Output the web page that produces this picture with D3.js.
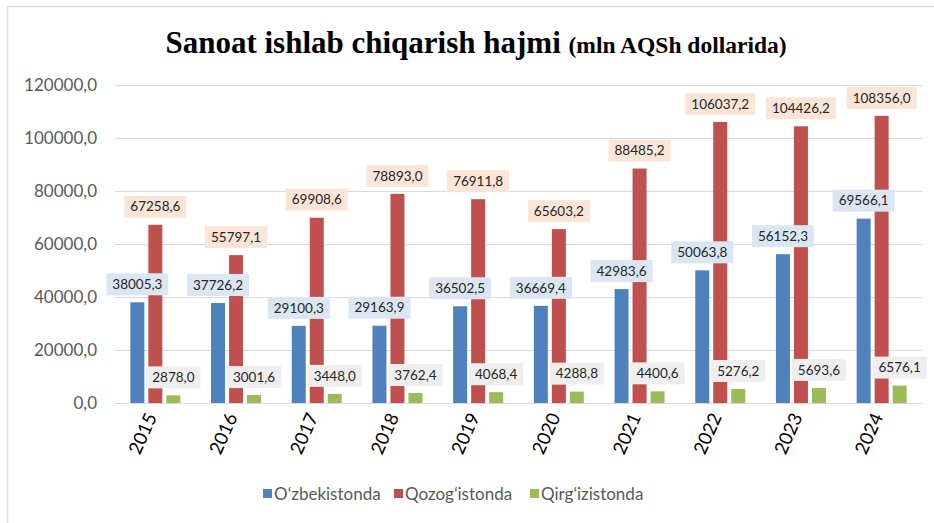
<!DOCTYPE html>
<head>
    <meta charset="utf-8">
    <title>Sanoat ishlab chiqarish hajmi</title>
    <style>
        body { margin: 0; background: #fff; }
        svg { display: block; }
    </style>
</head>
<body>
<svg width="934" height="523"></svg>

<script src="https://d3js.org/d3.v7.min.js"></script>
<script>

    // data
    var years = ["2015","2016","2017","2018","2019","2020","2021","2022","2023","2024"];
    var uzb = [38005.3, 37726.2, 29100.3, 29163.9, 36502.5, 36669.4, 42983.6, 50063.8, 56152.3, 69566.1];
    var kaz = [67258.6, 55797.1, 69908.6, 78893.0, 76911.8, 65603.2, 88485.2, 106037.2, 104426.2, 108356.0];
    var kgz = [2878.0, 3001.6, 3448.0, 3762.4, 4068.4, 4288.8, 4400.6, 5276.2, 5693.6, 6576.1];
    var seriesNames = ["O\u02BBzbekistonda", "Qozog\u02BBistonda", "Qirg\u02BBizistonda"];
    var yTicks = [0, 20000, 40000, 60000, 80000, 100000, 120000];

    var colors = ["#4f81bd", "#c0504d", "#9bbb59"];
    var labelFill = ["#dce6f2", "#fbe5d6", "#eeeeee"];
    var series = [uzb, kaz, kgz];

    var svg = d3.select("svg");

    // outer border
    svg.append("path")
        .attr("d", "M7.5,940 V6.5 H940")
        .attr("fill", "none")
        .attr("stroke", "#e0e0e0")
        .attr("stroke-width", 1.5);

    // title
    var title = svg.append("text")
        .attr("x", 476)
        .attr("y", 53)
        .attr("text-anchor", "middle")
        .attr("font-family", "'Liberation Serif', 'Times New Roman', serif")
        .attr("font-weight", "bold")
        .attr("fill", "#000");
    title.append("tspan").attr("font-size", 31).text("Sanoat ishlab chiqarish hajmi ");
    title.append("tspan").attr("font-size", 23.5).text("(mln AQSh dollarida)");

    // scales
    var x = d3.scaleBand()
        .domain(years)
        .range([115, 922]);
    var y = d3.scaleLinear()
        .domain([0, 120000])
        .range([403, 85]);
    var off = d3.scaleOrdinal().domain([0, 1, 2]).range([-18, 0, 18]);
    var barW = 14;

    // grid
    svg.append("g")
        .selectAll("line")
        .data(yTicks)
        .enter().append("line")
            .attr("x1", 115)
            .attr("x2", 922)
            .attr("y1", d => Math.round(y(d)) + 0.5)
            .attr("y2", d => Math.round(y(d)) + 0.5)
            .attr("stroke", "#d9d9d9")
            .attr("stroke-width", 1.2);

    // y axis labels
    var fmt = d => d3.format(".1f")(d).replace(".", ",");
    svg.append("g")
        .selectAll("text")
        .data(yTicks)
        .enter().append("text")
            .attr("x", 97)
            .attr("y", d => y(d))
            .attr("dy", "0.35em")
            .attr("text-anchor", "end")
            .attr("font-family", "Lato, 'Open Sans', sans-serif")
            .attr("font-size", 17)
            .attr("fill", "#595959")
            .text(fmt);

    // x axis labels
    svg.append("g")
        .selectAll("text")
        .data(years)
        .enter().append("text")
            .attr("transform", d => "translate(" + (x(d) + x.bandwidth() / 2 - 4) + ",414) rotate(-66)")
            .attr("text-anchor", "end")
            .attr("dy", "0.35em")
            .attr("font-family", "Lato, 'Open Sans', sans-serif")
            .attr("font-size", 18.5)
            .attr("fill", "#000")
            .text(d => d);

    // bars
    series.forEach((vals, s) => {
        svg.append("g")
            .selectAll("rect")
            .data(vals)
            .enter().append("rect")
                .attr("x", (d, i) => x(years[i]) + x.bandwidth() / 2 + off(s) - barW / 2)
                .attr("y", d => y(d))
                .attr("width", barW)
                .attr("height", d => y(0) - y(d))
                .attr("fill", colors[s]);
    });

    // data labels
    series.forEach((vals, s) => {
        var g = svg.append("g")
            .selectAll("g")
            .data(vals)
            .enter().append("g")
                .attr("transform", (d, i) => "translate(" + (x(years[i]) + x.bandwidth() / 2 + off(s)) + "," + (y(d) - 18) + ")");
        g.append("text")
            .attr("text-anchor", "middle")
            .attr("dy", "0.35em")
            .attr("font-family", "Lato, 'Open Sans', sans-serif")
            .attr("font-size", 13.5)
            .attr("fill", "#262626")
            .text(d => d3.format(".1f")(d).replace(".", ","));
        g.insert("rect", "text")
            .attr("x", function() { return -this.parentNode.querySelector("text").getComputedTextLength() / 2 - 6; })
            .attr("y", -11)
            .attr("width", function() { return this.parentNode.querySelector("text").getComputedTextLength() + 12; })
            .attr("height", 22)
            .attr("fill", labelFill[s]);
    });

    // legend
    var legX = [263, 394, 530];
    var leg = svg.append("g")
        .selectAll("g")
        .data(seriesNames)
        .enter().append("g")
            .attr("transform", (d, i) => "translate(" + legX[i] + ",494)");
    leg.append("rect")
        .attr("x", 0)
        .attr("y", -5)
        .attr("width", 9)
        .attr("height", 9)
        .attr("fill", (d, i) => colors[i]);
    leg.append("text")
        .attr("x", 11)
        .attr("dy", "0.35em")
        .attr("font-family", "Lato, 'Open Sans', sans-serif")
        .attr("font-size", 17)
        .attr("fill", "#595959")
        .text(d => d);

</script>
</body>
